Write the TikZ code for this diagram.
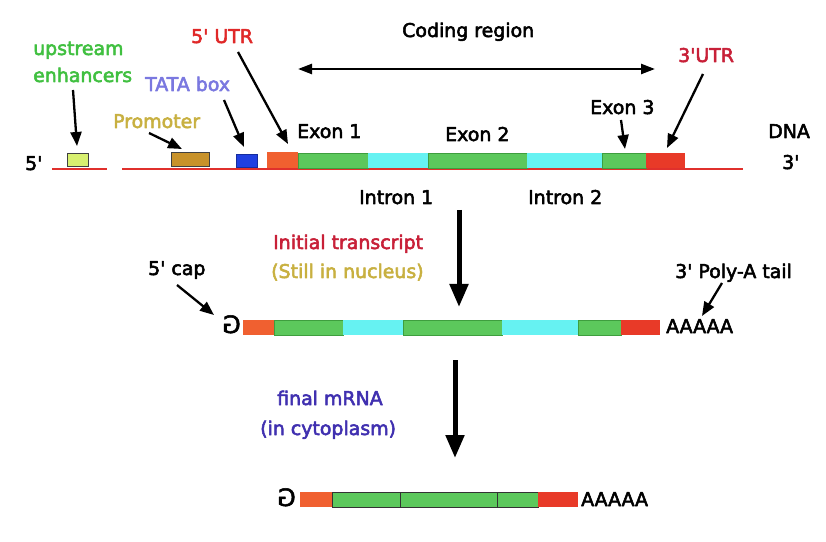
\documentclass[tikz,border=0pt]{standalone}
\usepackage{fontspec}
\newfontfamily\dv{DejaVu Sans}
\newcommand\thk[1]{\special{pdf:literal direct q 2 Tr 0.55 w 1 j}#1\special{pdf:literal direct Q}}
\usetikzlibrary{arrows.meta}
\definecolor{dnared}{HTML}{E0302C}
\definecolor{exg}{HTML}{5CC85C}
\definecolor{exgd}{HTML}{3E9E3E}
\definecolor{intc}{HTML}{66F2F2}
\definecolor{utro}{HTML}{F06030}
\definecolor{utrr}{HTML}{E83A28}
\definecolor{enhy}{HTML}{D8F070}
\definecolor{promg}{HTML}{C8922A}
\definecolor{tatab}{HTML}{2040E0}
\definecolor{tgreen}{HTML}{40C040}
\definecolor{tpurple}{HTML}{7A78E0}
\definecolor{tgold}{HTML}{C8B040}
\definecolor{tred}{HTML}{E02828}
\definecolor{tdred}{HTML}{C82038}
\definecolor{tblue}{HTML}{4030B0}
\begin{document}
\begin{tikzpicture}[x=1bp,y=-1bp,
  lbl/.style={anchor=base west, inner sep=0pt, font=\dv\fontsize{19}{22}\selectfont, execute at begin node={\special{pdf:literal direct q 2 Tr 0.55 w 1 j}}, execute at end node={\special{pdf:literal direct Q}}},
  capg/.style={lbl, font=\dv\fontsize{24}{26}\selectfont},
  thinarrow/.style={line width=2.3bp, -{Triangle[length=14bp,width=11bp]}},
  bigarrow/.style={line width=5bp, -{Triangle[length=23bp,width=18bp]}},
  dblarrow/.style={line width=2.4bp, {Triangle[length=14bp,width=10bp]}-{Triangle[length=14bp,width=10bp]}},
  dnaline/.style={dnared, line width=2.5bp},
  green seg/.style={fill=exg, draw=exgd, line width=0.8bp},
  cyan seg/.style={fill=intc},
]
\useasboundingbox (0,0) rectangle (826,542);
\fill[white] (0,0) rectangle (826,542);

% ---------- DNA ----------
\draw[dnaline] (52,169) -- (107,169);
\draw[dnaline] (122,169) -- (743,169);
\filldraw[fill=enhy, draw=black!75, line width=1bp] (67,154) rectangle (88,167);
\filldraw[fill=promg, draw=black!75, line width=1bp] (171,153) rectangle (209,167);
\filldraw[fill=tatab, draw=tatab!70!black, line width=0.6bp] (236,154) rectangle (257,167);
\fill[utro] (267,152) rectangle (298,168);
\filldraw[green seg] (298,153) rectangle (368,168);
\fill[cyan seg] (368,153.4) rectangle (428,167.6);
\filldraw[green seg] (428,153) rectangle (527,168);
\fill[cyan seg] (527,153.4) rectangle (602,167.6);
\filldraw[green seg] (602,153) rectangle (646,168);
\fill[utrr] (646,153) rectangle (685,168);

\node[lbl] (p5) at (25,170) {5'};
\node[lbl] (p3) at (782,169) {3'};
\node[lbl] (dna) at (768,138) {DNA};
\node[lbl, text=tgreen] (ups) at (33,55) {upstream};
\node[lbl, text=tgreen] (enh) at (33,82) {enhancers};
\node[lbl, text=tpurple] (tata) at (145,91) {TATA box};
\node[lbl, text=tgold] (prom) at (113,128) {Promoter};
\node[lbl, text=tred] (utr5) at (191,43) {5' UTR};
\node[lbl] (ex1) at (297,138) {Exon 1};
\node[lbl] (ex2) at (445,141) {Exon 2};
\node[lbl] (ex3) at (590,114) {Exon 3};
\node[lbl, text=tdred] (utr3) at (678,62) {3'UTR};
\node[lbl] (cod) at (402,37) {Coding region};
\node[lbl] (in1) at (359,204) {Intron 1};
\node[lbl] (in2) at (528,204) {Intron 2};

\coordinate (enhS) at (73,90);   \coordinate (enhT) at (77,146);
\coordinate (tataS) at (224,100); \coordinate (tataT) at (244,147);
\coordinate (promS) at (149,133); \coordinate (promT) at (182,149);
\coordinate (utr5S) at (238,52); \coordinate (utr5T) at (288,144);
\coordinate (utr3S) at (703,74); \coordinate (utr3T) at (667,148);
\coordinate (ex3S) at (621,120); \coordinate (ex3T) at (625,149);
\coordinate (codL) at (298,69); \coordinate (codR) at (655,69);

\draw[thinarrow] (enhS) -- (enhT);
\draw[thinarrow] (tataS) -- (tataT);
\draw[thinarrow] (promS) -- (promT);
\draw[thinarrow] (utr5S) -- (utr5T);
\draw[thinarrow] (utr3S) -- (utr3T);
\draw[thinarrow] (ex3S) -- (ex3T);
\draw[dblarrow] (codL) -- (codR);

% ---------- arrow 1 ----------
\coordinate (a1S) at (459,210); \coordinate (a1T) at (459,307);
\draw[bigarrow] (a1S) -- (a1T);
\node[lbl, text=tdred] (init) at (273,249) {Initial transcript};
\node[lbl, text=tgold] (nuc) at (271,278) {(Still in nucleus)};

% ---------- initial transcript ----------
\fill[utro] (243,320) rectangle (274,335);
\filldraw[green seg] (274,320) rectangle (343,335);
\fill[cyan seg] (343,320.4) rectangle (403,334.6);
\filldraw[green seg] (403,320) rectangle (502,335);
\fill[cyan seg] (502,320.4) rectangle (578,334.6);
\filldraw[green seg] (578,320) rectangle (621,335);
\fill[utrr] (621,320) rectangle (660,335);
\node[capg] (g1) at (222,333) {\reflectbox{G}};
\node[lbl] (pa1) at (666,333) {AAAAA};
\node[lbl] (cap5) at (148,275) {5' cap};
\node[lbl] (polya) at (675,278) {3' Poly-A tail};
\coordinate (capS) at (177,285); \coordinate (capT) at (214,315);
\coordinate (polS) at (722,283); \coordinate (polT) at (702,316);
\draw[thinarrow] (capS) -- (capT);
\draw[thinarrow] (polS) -- (polT);

% ---------- arrow 2 ----------
\coordinate (a2S) at (455,360); \coordinate (a2T) at (455,458);
\draw[bigarrow] (a2S) -- (a2T);
\node[lbl, text=tblue] (fin) at (277,405) {final mRNA};
\node[lbl, text=tblue] (cyt) at (260,435) {(in cytoplasm)};

% ---------- final mRNA ----------
\fill[utro] (300,492) rectangle (332,507);
\filldraw[fill=exg, draw=black!80, line width=1bp] (332,492) rectangle (538,507);
\draw[black!80, line width=1bp] (400,492) -- (400,507);
\draw[black!80, line width=1bp] (497,492) -- (497,507);
\fill[utrr] (538,492) rectangle (578,507);
\node[capg] (g2) at (277,506) {\reflectbox{G}};
\node[lbl] (pa2) at (581,506) {AAAAA};
\end{tikzpicture}
\end{document}
